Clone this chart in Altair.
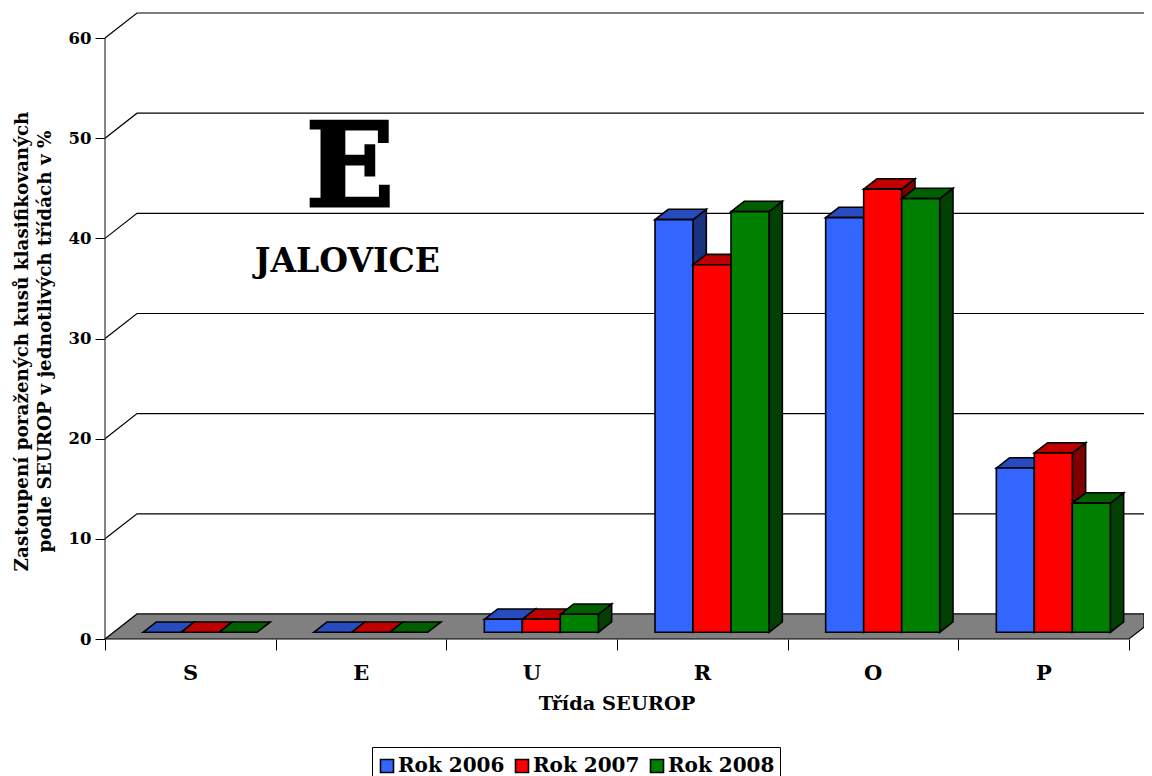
import altair as alt
import pandas as pd

FONT = "DejaVu Serif"

# --- values ---
categories = ["S", "E", "U", "R", "O", "P"]
series = ["Rok 2006", "Rok 2007", "Rok 2008"]
values_2006 = [0, 0, 1.3, 41.2, 41.4, 16.4]
values_2007 = [0, 0, 1.3, 36.7, 44.25, 17.9]
values_2008 = [0, 0, 1.8, 42.0, 43.3, 12.9]
y_ticks = [0, 10, 20, 30, 40, 50, 60]
front_colors = ["#3366FF", "#FF0000", "#008000"]
top_colors = ["#264CBF", "#BF0000", "#006000"]
side_colors = ["#1A3380", "#800000", "#004000"]
y_title = ["Zastoupení poražených kusů klasifikovaných",
           "podle SEUROP v jednotlivých třídách v %"]
x_title = "Třída SEUROP"
note_big = "E"
note_small = "JALOVICE"

# --- scale units: x = categories, y = percent ---
X_MAX = 6.088
Y_MAX = 62.5
WALL_X, WALL_Y = 0.1875, 2.5     # depth of the floor / wall
BAR_W = 0.2227
BAR_DX, BAR_DY = 0.078, 1.03     # depth of a bar
BAR_BASE = 0.67                  # bars stand this far into the floor
GROUP_START = 0.2227

x_scale = alt.Scale(domain=[0, X_MAX], nice=False, zero=False)
y_scale = alt.Scale(domain=[0, Y_MAX], nice=False, zero=False)
x_axis = alt.Axis(
    title=x_title, values=list(range(7)), domain=False, grid=False,
    labelExpr="['S','E','U','R','O','P',''][datum.value]", labelFlush=False,
    labelOffset=85, labelPadding=12, labelAngle=0, tickSize=11, tickColor="black",
    labelFont=FONT, labelFontSize=21, labelFontWeight="bold", labelColor="black",
    titleFont=FONT, titleFontSize=19.4, titleFontWeight="bold", titleColor="black",
    titleX=511.5, titleY=70, titleBaseline="alphabetic")
y_axis = alt.Axis(
    title=y_title, values=y_ticks, domain=False, grid=False, tickSize=10, tickColor="black",
    labelFont=FONT, labelFontSize=16.5, labelFontWeight="bold", labelColor="black", labelPadding=4,
    titleFont=FONT, titleFontSize=18.4, titleFontWeight="bold", titleColor="black",
    titleX=-74, titleY=328, titleLineHeight=23)
X = lambda: alt.X("x:Q", scale=x_scale, axis=x_axis)
Y = lambda: alt.Y("y:Q", scale=y_scale, axis=y_axis)

W, H = 1039, 626

# grid lines (front of wall edge to the back wall)
grid_rows = []
for v in y_ticks[1:]:
    grid_rows += [{"v": v, "x": 0, "y": v},
                  {"v": v, "x": WALL_X, "y": v + WALL_Y},
                  {"v": v, "x": X_MAX, "y": v + WALL_Y}]
grid = alt.Chart(pd.DataFrame(grid_rows)).mark_line(color="black", strokeWidth=1.2).encode(
    x=X(), y=Y(), detail="v:N")

# y axis line, from 0 to 60
axis_line = alt.Chart(pd.DataFrame({"x": [0], "y": [y_ticks[0]], "y2": [y_ticks[-1]]})).mark_rule(
    color="#333333", strokeWidth=1.2).encode(x=X(), y=Y(), y2="y2:Q")

# floor
floor = alt.Chart(pd.DataFrame({
    "x": [0, WALL_X, 6, X_MAX],
    "y": [0, WALL_Y, WALL_Y, WALL_Y],
    "y2": [0, 0, 0, (X_MAX - 6) / WALL_X * WALL_Y],
})).mark_area(color="#808080", stroke="black", strokeWidth=1.2, orient="vertical").encode(
    x=X(), y=Y(), y2="y2:Q")

layers = [grid, axis_line, floor]

all_values = [values_2006, values_2007, values_2008]
BORDER = dict(stroke="black", strokeWidth=1.6)
for s, name in enumerate(series):
    front, top, side = [], [], []
    for c, cat in enumerate(categories):
        v = all_values[s][c]
        x0 = c + GROUP_START + s * BAR_W
        x1 = x0 + BAR_W
        yt = v + BAR_BASE
        front.append({"cat": cat, "series": name, "x": x0, "x1": x1, "y": BAR_BASE, "y2": yt})
        top += [{"cat": cat, "x": x0, "y": yt, "y2": yt},
                {"cat": cat, "x": x0 + BAR_DX, "y": yt + BAR_DY, "y2": yt},
                {"cat": cat, "x": x1, "y": yt + BAR_DY, "y2": yt},
                {"cat": cat, "x": x1 + BAR_DX, "y": yt + BAR_DY, "y2": yt + BAR_DY}]
        if v > 0:
            side += [{"cat": cat, "x": x1, "y": yt, "y2": BAR_BASE},
                     {"cat": cat, "x": x1 + BAR_DX, "y": yt + BAR_DY, "y2": BAR_BASE + BAR_DY}]
    layers.append(alt.Chart(pd.DataFrame(side)).mark_area(
        color=side_colors[s], orient="vertical", **BORDER).encode(
        x=X(), y=Y(), y2="y2:Q", detail="cat:N"))
    layers.append(alt.Chart(pd.DataFrame(top)).mark_area(
        color=top_colors[s], orient="vertical", **BORDER).encode(
        x=X(), y=Y(), y2="y2:Q", detail="cat:N"))
    layers.append(alt.Chart(pd.DataFrame([r for r in front if r["y2"] > BAR_BASE])).mark_rect(
        **BORDER).encode(
        x=X(), x2="x1:Q", y=Y(), y2="y2:Q",
        fill=alt.Fill("series:N", scale=alt.Scale(domain=series, range=front_colors), legend=alt.Legend(
            title=" ", titleFontSize=4, titlePadding=0,
            orient="none", legendX=267, legendY=734, direction="horizontal", columns=3,
            symbolType="square", symbolSize=169, symbolStrokeColor="black", symbolStrokeWidth=1.6,
            labelFont=FONT, labelFontSize=20, labelFontWeight="bold", labelColor="black",
            labelOffset=1, columnPadding=7, padding=5, strokeColor="black", fillColor="white",
            labelLimit=200))))

big = alt.Chart(pd.DataFrame({"x": [1.435], "y": [43.2], "t": [note_big]})).mark_text(
    font=FONT, fontSize=116, fontWeight="bold", color="black", baseline="alphabetic", align="center",
    stroke="black", strokeWidth=3).encode(x=X(), y=Y(), text="t:N")
small = alt.Chart(pd.DataFrame({"x": [1.42], "y": [36.6], "t": [note_small]})).mark_text(
    font=FONT, fontSize=33, fontWeight="bold", color="black", baseline="alphabetic", align="center").encode(
    x=X(), y=Y(), text="t:N")
layers += [big, small]

chart = alt.layer(*layers).properties(
    width=W, height=H,
    padding={"left": 97, "top": 5, "right": 0, "bottom": 137},
    autosize=alt.AutoSizeParams(type="none"),
    background="white",
).configure_view(stroke=None)

chart.save("out.html", embed_options={"renderer": "svg", "actions": False})
